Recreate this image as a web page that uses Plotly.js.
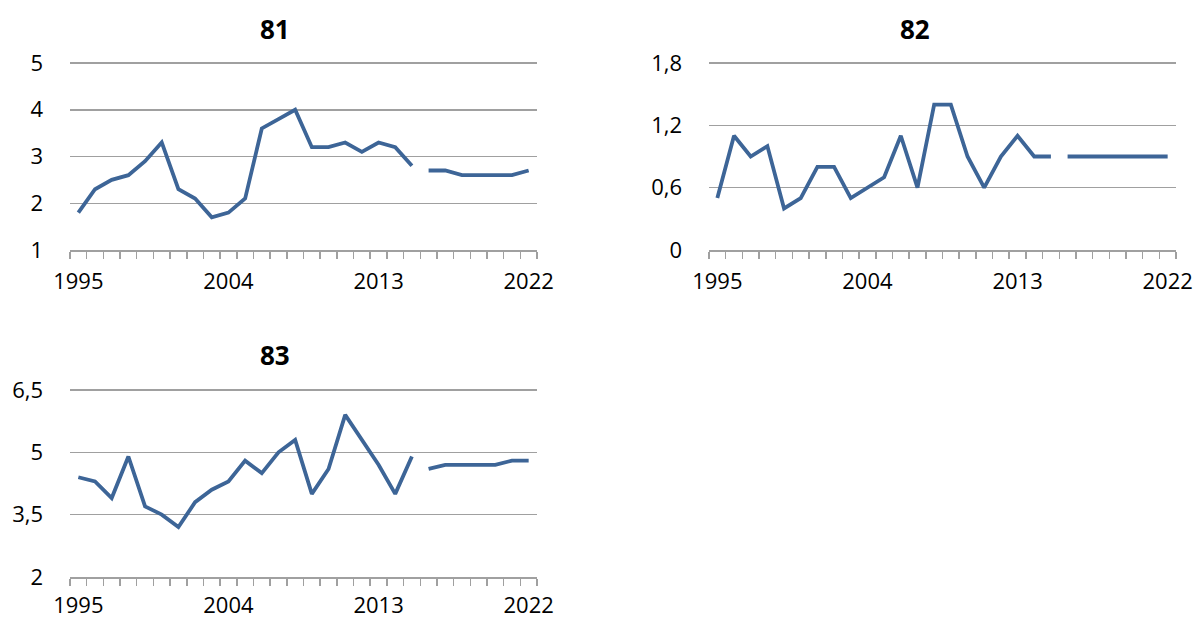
<!DOCTYPE html>
<html>
<head>
<meta charset="utf-8">
<script src="https://cdn.plot.ly/plotly-3.0.1.min.js"></script>
<style>
html,body{margin:0;padding:0;background:#fff;}
#chart{width:1196px;height:620px;}
</style>
</head>
<body>
<div id="chart"></div>
<script>
// Data
const histYears = [1995,1996,1997,1998,1999,2000,2001,2002,2003,2004,2005,2006,2007,2008,2009,2010,2011,2012,2013,2014,2015];
const foreYears = [2016,2017,2018,2019,2020,2021,2022];
const labelYears = [1995,2004,2013,2022];

const titles = ["81","82","83"];

const s81Hist = [1.8,2.3,2.5,2.6,2.9,3.3,2.3,2.1,1.7,1.8,2.1,3.6,3.8,4.0,3.2,3.2,3.3,3.1,3.3,3.2,2.8];
const s81Fore = [2.7,2.7,2.6,2.6,2.6,2.6,2.7];

const s82Hist = [0.5,1.1,0.9,1.0,0.4,0.5,0.8,0.8,0.5,0.6,0.7,1.1,0.6,1.4,1.4,0.9,0.6,0.9,1.1,0.9,0.9];
const s82Fore = [0.9,0.9,0.9,0.9,0.9,0.9,0.9];

const s83Hist = [4.4,4.3,3.9,4.9,3.7,3.5,3.2,3.8,4.1,4.3,4.8,4.5,5.0,5.3,4.0,4.6,5.9,5.3,4.7,4.0,4.9];
const s83Fore = [4.6,4.7,4.7,4.7,4.7,4.8,4.8];

const y81Ticks = [1,2,3,4,5];
const y81Labels = ["1","2","3","4","5"];
const y82Ticks = [0,0.6,1.2,1.8];
const y82Labels = ["0","0,6","1,2","1,8"];
const y83Ticks = [2,3.5,5,6.5];
const y83Labels = ["2","3,5","5","6,5"];

const lineColor = "#3d6597";
const gridColor = "#a0a0a0";
const fontFam = "'Open Sans', 'Noto Sans', sans-serif";

function mk(x, y, ax) {
  return {x: x, y: y, xaxis: 'x' + ax, yaxis: 'y' + ax, type: 'scatter', mode: 'lines',
    line: {color: lineColor, width: 3.8}, hoverinfo: 'skip', showlegend: false};
}
const traces = [
  mk(histYears, s81Hist, ''), mk(foreYears, s81Fore, ''),
  mk(histYears, s82Hist, '2'), mk(foreYears, s82Fore, '2'),
  mk(histYears, s83Hist, '3'), mk(foreYears, s83Fore, '3')
];

function xax(domain, anchor, standoff) {
  return {
    domain: domain, anchor: anchor, range: [1994.5, 2022.5],
    tickmode: 'array', tickvals: labelYears, ticktext: labelYears.map(String),
    ticks: '', ticklabelstandoff: standoff,
    showgrid: false, zeroline: false,
    showline: true, linecolor: gridColor, linewidth: 1.5,
    minor: {tickmode: 'linear', tick0: 1994.5, dtick: 1, ticks: 'outside', ticklen: 7, tickcolor: gridColor, tickwidth: 1.5, showgrid: false},
    tickfont: {family: fontFam, size: 22, color: '#000'},
    fixedrange: true
  };
}
// small headroom (pad) so the top gridline is drawn inside the plot area
function yax(domain, anchor, lo, hi, tv, tt) {
  const pad = (hi - lo) * 0.008;
  return {
    domain: domain, anchor: anchor, range: [lo, hi + pad],
    tickmode: 'array', tickvals: tv, ticktext: tt,
    ticks: '', ticklabelstandoff: 26,
    showgrid: true, gridcolor: gridColor, gridwidth: 1.5,
    zeroline: false, showline: false,
    tickfont: {family: fontFam, size: 22, color: '#000'},
    fixedrange: true
  };
}

const xd1 = [70/1196, 537/1196];
const xd2 = [709/1196, 1176/1196];
const yd1 = [(620-250)/620, (620-61.5)/620];
const yd2 = [(620-577)/620, (620-388.5)/620];

const layout = {
  width: 1196, height: 620,
  margin: {l: 0, r: 0, t: 0, b: 0},
  paper_bgcolor: '#fff', plot_bgcolor: '#fff',
  font: {family: fontFam, color: '#000'},
  xaxis: xax(xd1, 'y', 11),
  yaxis: yax(yd1, 'x', 1, 5, y81Ticks, y81Labels),
  xaxis2: xax(xd2, 'y2', 11),
  yaxis2: yax(yd1, 'x2', 0, 1.8, y82Ticks, y82Labels),
  xaxis3: xax(xd1, 'y3', 8),
  yaxis3: yax(yd2, 'x3', 2, 6.5, y83Ticks, y83Labels),
  annotations: [
    {text: '<b>' + titles[0] + '</b>', x: 275/1196, y: (620-29)/620, xref: 'paper', yref: 'paper', showarrow: false, xanchor: 'center', yanchor: 'middle', font: {family: fontFam, size: 26, color: '#000'}},
    {text: '<b>' + titles[1] + '</b>', x: 915/1196, y: (620-29)/620, xref: 'paper', yref: 'paper', showarrow: false, xanchor: 'center', yanchor: 'middle', font: {family: fontFam, size: 26, color: '#000'}},
    {text: '<b>' + titles[2] + '</b>', x: 275/1196, y: (620-355)/620, xref: 'paper', yref: 'paper', showarrow: false, xanchor: 'center', yanchor: 'middle', font: {family: fontFam, size: 26, color: '#000'}}
  ]
};

Plotly.newPlot('chart', traces, layout, {staticPlot: true, displayModeBar: false});
</script>
</body>
</html>
